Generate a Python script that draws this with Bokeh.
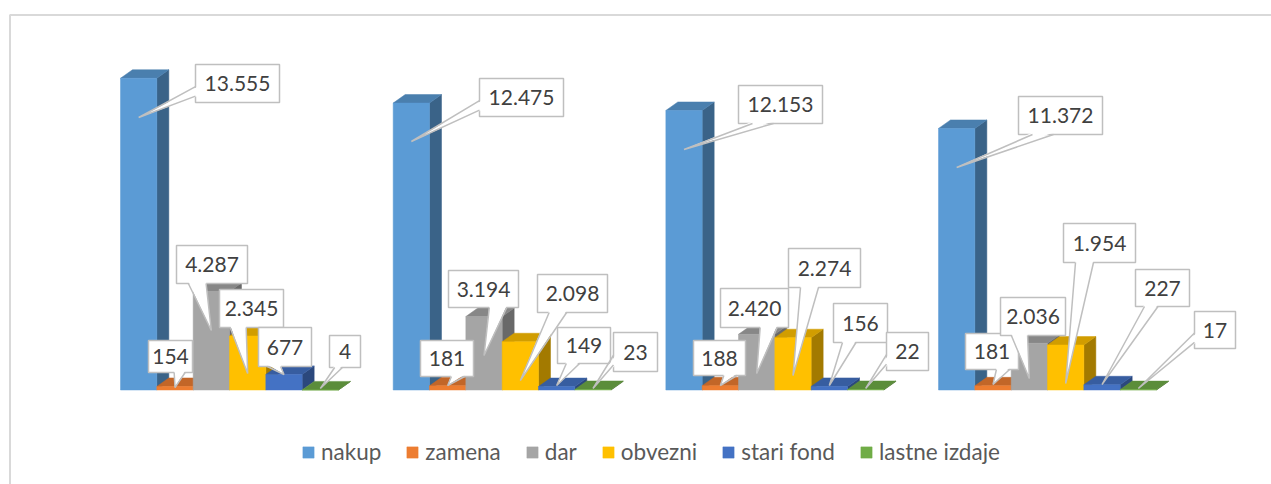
from bokeh.plotting import figure
from bokeh.models import Range1d, Legend, LegendItem
from bokeh.embed import file_html
from bokeh.resources import INLINE
from bokeh.core.properties import value

# ---------------- data ----------------
groups = ["1", "2", "3", "4"]
series = ["nakup", "zamena", "dar", "obvezni", "stari fond", "lastne izdaje"]
nakup = [13555, 12475, 12153, 11372]
zamena = [154, 181, 188, 181]
dar = [4287, 3194, 2420, 2036]
obvezni = [2345, 2098, 2274, 1954]
stari_fond = [677, 149, 156, 227]
lastne_izdaje = [4, 23, 22, 17]
values = [nakup, zamena, dar, obvezni, stari_fond, lastne_izdaje]

# ---------------- styles ----------------
front_colors = ["#5B9BD5", "#ED7D31", "#A5A5A5", "#FFC000", "#4472C4", "#70AD47"]


def shade(hex_color, f):
    h = hex_color.lstrip("#")
    r, g, b = (int(h[k:k + 2], 16) for k in (0, 2, 4))
    return "#%02X%02X%02X" % (int(r * f), int(g * f), int(b * f))


top_colors = [shade(c, 0.82) for c in front_colors]
side_colors = [shade(c, 0.64) for c in front_colors]

# ---------------- layout (screen px) ----------------
W, H = 1271, 484
GROUP_PX = 272.67      # distance between group starts
X0_PX = 229.0          # centre of first group
BASE_PX = 389.5        # baseline
PX_PER_UNIT = 0.0230   # vertical scale
BAR_PX = 36.33
DX_PX, DY_PX = 12.0, 8.5   # 3-D depth offset

# label callout boxes (left, top, right, bottom) and tip height, per group / series
LABEL_BOXES = [
    [(195, 64, 279, 102, 117), (148, 340, 192, 372, 387), (176, 245, 247, 283, 330),
     (219, 289, 283, 327, 373), (258, 327, 311, 366, 374), (329, 335, 360, 367, 388)],
    [(479, 78, 563, 116, 141), (420, 340, 473, 376, 385), (448, 270, 518, 307, 355),
     (537, 274, 607, 312, 380), (557, 327, 610, 363, 385), (613, 332, 657, 371, 388)],
    [(738, 85, 822, 123, 149), (693, 340, 745, 375, 385), (720, 288, 788, 327, 373),
     (788, 248, 860, 287, 375), (833, 303, 887, 342, 385), (886, 332, 928, 370, 388)],
    [(1018, 96, 1102, 134, 167), (965, 333, 1018, 369, 384), (1000, 297, 1065, 335, 378),
     (1063, 223, 1135, 262, 383), (1135, 269, 1189, 306, 384), (1194, 311, 1235, 348, 388)],
]


def px_x(px):
    return (px - X0_PX) / GROUP_PX


def py_y(py):
    return (BASE_PX - py) / PX_PER_UNIT


BAR_W = BAR_PX / GROUP_PX
DDX = DX_PX / GROUP_PX
DDY = DY_PX / PX_PER_UNIT

p = figure(width=W, height=H, output_backend="svg", toolbar_location=None,
           x_range=Range1d(px_x(0), px_x(W)), y_range=Range1d(py_y(H), py_y(0)),
           x_axis_location=None, y_axis_location=None, min_border=0,
           outline_line_color=None, background_fill_color="white",
           border_fill_color="white")
p.xgrid.visible = False
p.ygrid.visible = False

# chart-area border (top and left edges visible)
p.line(x=[px_x(9.5), px_x(9.5), px_x(W + 5)], y=[py_y(H + 5), py_y(14.5), py_y(14.5)],
       line_color="#D9D9D9", line_width=2)

# ---------------- 3-D bars ----------------
legend_items = []
for j, name in enumerate(series):
    vals = values[j]
    xc = [i + (j - 2.5) * BAR_W for i in range(len(groups))]
    side_xs, side_ys, top_xs, top_ys = [], [], [], []
    for x, v in zip(xc, vals):
        xl, xr = x - BAR_W / 2, x + BAR_W / 2
        side_xs.append([xr, xr + DDX, xr + DDX, xr])
        side_ys.append([0, DDY, v + DDY, v])
        top_xs.append([xl, xr, xr + DDX, xl + DDX])
        top_ys.append([v, v, v + DDY, v + DDY])
    p.patches(side_xs, side_ys, fill_color=side_colors[j], line_color=side_colors[j], line_width=0.5)
    p.patches(top_xs, top_ys, fill_color=top_colors[j], line_color=top_colors[j], line_width=0.5)
    r = p.vbar(x=xc, top=vals, bottom=0, width=BAR_W, fill_color=front_colors[j],
               line_color=front_colors[j], line_width=0.5)
    legend_items.append(LegendItem(label=name, renderers=[r]))

# ---------------- callout labels ----------------
box_l, box_r, box_t, box_b = [], [], [], []
wedge_xs, wedge_ys, side_lx, side_ly = [], [], [], []
tx, ty, tt = [], [], []
for i in range(len(groups)):
    for j in range(len(series)):
        l, t, r_, b, tip_py = LABEL_BOXES[i][j]
        tip_px = X0_PX + i * GROUP_PX + (j - 2.5) * BAR_PX
        w, h = r_ - l, b - t
        hc, vc = (l + r_) / 2, (t + b) / 2
        dxp, dyp = tip_px - hc, tip_py - vc
        if abs(dyp) > abs(dxp * h / w):
            ey = b if dyp > 0 else t
            inset = -2 if dyp > 0 else 2
            if dxp > 0:
                x1, x2 = l + 7 * w / 12, l + 10 * w / 12
            else:
                x1, x2 = l + 2 * w / 12, l + 5 * w / 12
            b1, b2 = (x1, ey), (x2, ey)
            bi1, bi2 = (x1, ey + inset), (x2, ey + inset)
        else:
            ex = l if dxp < 0 else r_
            inset = 2 if dxp < 0 else -2
            if dyp > 0:
                y1, y2 = t + 7 * h / 12, t + 10 * h / 12
            else:
                y1, y2 = t + 2 * h / 12, t + 5 * h / 12
            b1, b2 = (ex, y1), (ex, y2)
            bi1, bi2 = (ex + inset, y1), (ex + inset, y2)
        box_l.append(px_x(l)); box_r.append(px_x(r_))
        box_t.append(py_y(t)); box_b.append(py_y(b))
        wedge_xs.append([px_x(bi1[0]), px_x(tip_px), px_x(bi2[0])])
        wedge_ys.append([py_y(bi1[1]), py_y(tip_py), py_y(bi2[1])])
        side_lx.append([px_x(b1[0]), px_x(tip_px), px_x(b2[0])])
        side_ly.append([py_y(b1[1]), py_y(tip_py), py_y(b2[1])])
        tx.append(px_x(hc)); ty.append(py_y(vc))
        tt.append(f"{values[j][i]:,}".replace(",", "."))

LBL_LINE = "#BFBFBF"
p.quad(left=box_l, right=box_r, top=box_t, bottom=box_b, fill_color="white",
       line_color=LBL_LINE, line_width=1.5)
p.patches(wedge_xs, wedge_ys, fill_color="white", line_color=None)
p.multi_line(side_lx, side_ly, line_color=LBL_LINE, line_width=1.5)
p.text(x=tx, y=ty, text=tt, text_align="center", text_baseline="middle",
       text_font=value("Lato"), text_font_size="21px", text_color="#404040")

# ---------------- legend ----------------
legend = Legend(items=legend_items, orientation="horizontal", location=(301, 19),
                glyph_width=14, glyph_height=14, label_standoff=6, spacing=24,
                padding=0, margin=0, border_line_color=None,
                background_fill_alpha=0, label_text_font="Lato",
                label_text_font_size="22.5px", label_text_color="#595959")
p.add_layout(legend)

open("out.html", "w").write(file_html(p, INLINE))
